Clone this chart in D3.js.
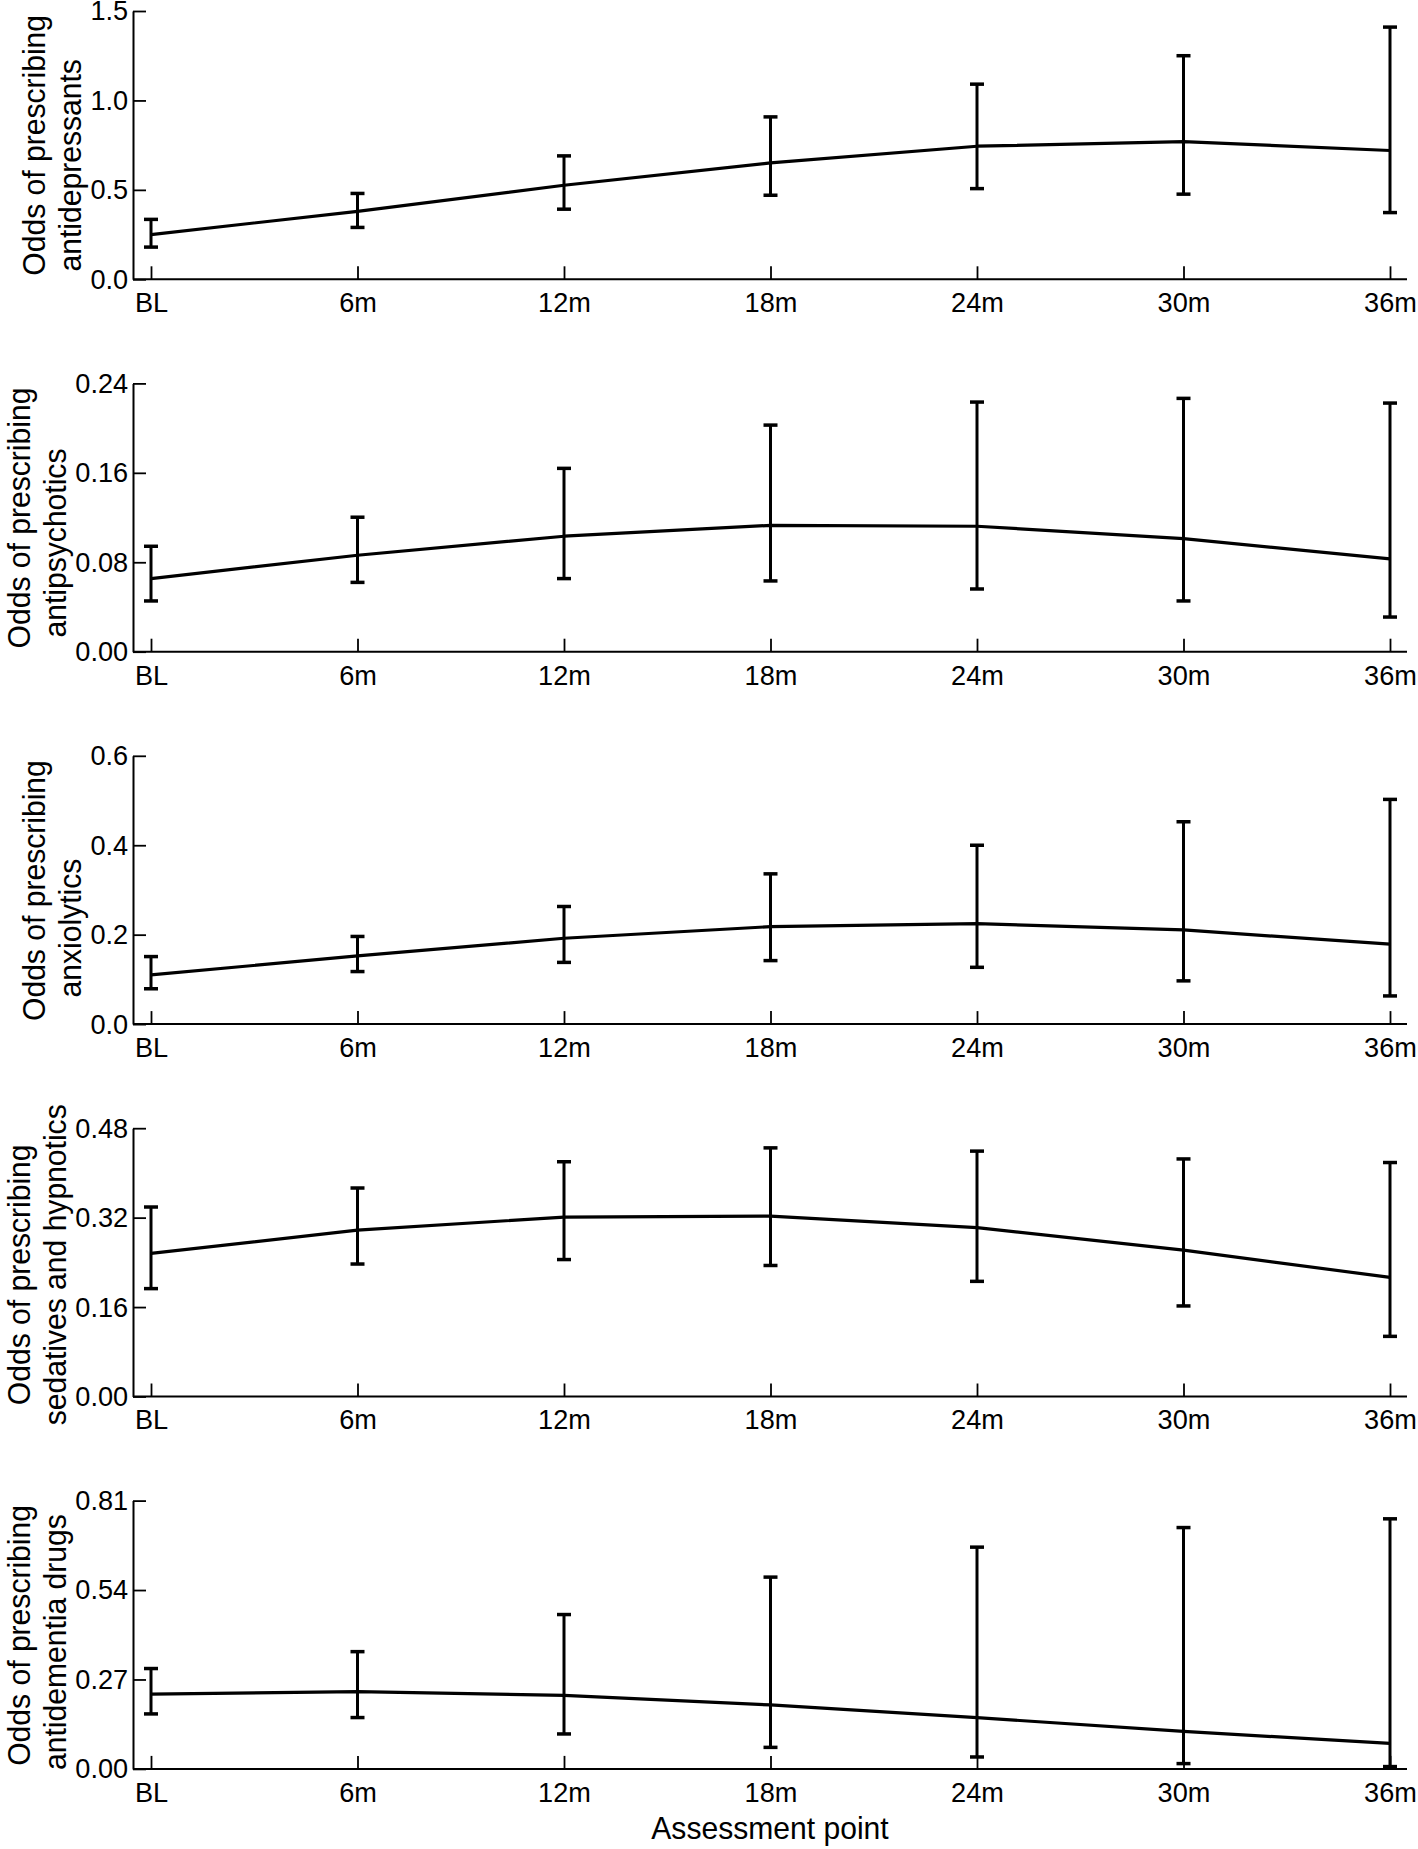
<!DOCTYPE html>
<html>
<head>
<meta charset="utf-8">
<script src="https://cdn.jsdelivr.net/npm/d3@7"></script>
<style>
  html, body { margin: 0; padding: 0; background: #fff; }
  svg { display: block; }
  text { font-family: "Liberation Sans", Arial, Helvetica, sans-serif; fill: #000; }
</style>
</head>
<body>
<div id="chart"></div>
<script>
// ---------------- DATA ----------------
const categories = ["BL", "6m", "12m", "18m", "24m", "30m", "36m"];

const labelAntidepressants = ["Odds of prescribing", "antidepressants"];
const estAntidepressants   = [0.250, 0.380, 0.526, 0.651, 0.744, 0.770, 0.720];
const lowAntidepressants   = [0.180, 0.290, 0.392, 0.470, 0.507, 0.476, 0.373];
const highAntidepressants  = [0.335, 0.480, 0.690, 0.908, 1.091, 1.250, 1.410];
const ticksAntidepressants = [0.0, 0.5, 1.0, 1.5];

const labelAntipsychotics = ["Odds of prescribing", "antipsychotics"];
const estAntipsychotics   = [0.0654, 0.0863, 0.1033, 0.1130, 0.1122, 0.1012, 0.0830];
const lowAntipsychotics   = [0.0454, 0.0620, 0.0654, 0.0633, 0.0561, 0.0454, 0.0310];
const highAntipsychotics  = [0.0943, 0.1203, 0.1640, 0.2027, 0.2233, 0.2266, 0.2224];
const ticksAntipsychotics = [0.00, 0.08, 0.16, 0.24];

const labelAnxiolytics = ["Odds of prescribing", "anxiolytics"];
const estAnxiolytics   = [0.110, 0.1525, 0.192, 0.218, 0.2247, 0.2106, 0.1787];
const lowAnxiolytics   = [0.079, 0.1175, 0.138, 0.142, 0.127, 0.0967, 0.063];
const highAnxiolytics  = [0.151, 0.196, 0.263, 0.336, 0.400, 0.4525, 0.5025];
const ticksAnxiolytics = [0.0, 0.2, 0.4, 0.6];

const labelSedatives = ["Odds of prescribing", "sedatives and hypnotics"];
const estSedatives   = [0.256, 0.2977, 0.321, 0.3228, 0.302, 0.262, 0.213];
const lowSedatives   = [0.193, 0.237, 0.245, 0.2344, 0.206, 0.162, 0.1076];
const highSedatives  = [0.339, 0.373, 0.420, 0.4448, 0.439, 0.425, 0.4186];
const ticksSedatives = [0.00, 0.16, 0.32, 0.48];

const labelAntidementia = ["Odds of prescribing", "antidementia drugs"];
const estAntidementia   = [0.226, 0.233, 0.222, 0.193, 0.1547, 0.113, 0.077];
const lowAntidementia   = [0.166, 0.155, 0.1055, 0.065, 0.036, 0.016, 0.007];
const highAntidementia  = [0.303, 0.354, 0.466, 0.579, 0.6695, 0.7286, 0.755];
const ticksAntidementia = [0.00, 0.27, 0.54, 0.81];

const xAxisTitle = "Assessment point";

// ---------------- LAYOUT ----------------
const W = 1418, H = 1849;
const axisLeftX = 133, axisRightX = 1407;
const firstPointX = 151, lastPointX = 1390;
const panelTop0 = 11, panelStep = 372.4, panelHeight = 268.3;

const panels = [
  { label: labelAntidepressants, est: estAntidepressants, low: lowAntidepressants, high: highAntidepressants, ticks: ticksAntidepressants, fmt: ".1f", lx: [45, 81], lc: [-134, -114] },
  { label: labelAntipsychotics,  est: estAntipsychotics,  low: lowAntipsychotics,  high: highAntipsychotics,  ticks: ticksAntipsychotics,  fmt: ".2f", lx: [30, 66], lc: [-133.7, -108.7] },
  { label: labelAnxiolytics,     est: estAnxiolytics,     low: lowAnxiolytics,     high: highAnxiolytics,     ticks: ticksAnxiolytics,     fmt: ".1f", lx: [45, 81], lc: [-133.5, -96] },
  { label: labelSedatives,       est: estSedatives,       low: lowSedatives,       high: highSedatives,       ticks: ticksSedatives,       fmt: ".2f", lx: [30, 66], lc: [-121.7, -131.7] },
  { label: labelAntidementia,    est: estAntidementia,    low: lowAntidementia,    high: highAntidementia,    ticks: ticksAntidementia,    fmt: ".2f", lx: [30, 66], lc: [-133.5, -126.8] }
];

const svg = d3.select("#chart").append("svg")
  .attr("width", W).attr("height", H)
  .attr("viewBox", `0 0 ${W} ${H}`);

svg.append("rect").attr("width", W).attr("height", H).attr("fill", "#fff");

const x = d3.scalePoint().domain(categories).range([firstPointX, lastPointX]);

const tickFont = 28, tickScale = 0.97, titleFont = 32, titleScale = 0.94, capHalf = 7;

panels.forEach((p, i) => {
  const top = panelTop0 + i * panelStep;
  const bottom = top + panelHeight;
  const y = d3.scaleLinear().domain([0, p.ticks[p.ticks.length - 1]]).range([bottom, top]);
  const g = svg.append("g").attr("class", "panel");

  // Y axis
  const ya = g.append("g")
    .attr("transform", `translate(${axisLeftX},0)`)
    .call(d3.axisLeft(y).tickValues(p.ticks).tickFormat(d3.format(p.fmt))
      .tickSizeInner(-13).tickSizeOuter(0).tickPadding(5));
  ya.select(".domain").attr("stroke", "#000").attr("stroke-width", 2);
  ya.selectAll(".tick line").attr("stroke", "#000").attr("stroke-width", 1.8);
  ya.selectAll(".tick text").attr("font-size", tickFont).attr("fill", "#000")
    .attr("transform", `scale(${tickScale},1)`)
    .style("font-family", "'Liberation Sans', Arial, sans-serif");

  // X axis
  const xa = g.append("g")
    .attr("transform", `translate(0,${bottom})`)
    .call(d3.axisBottom(x).tickSizeInner(-13).tickSizeOuter(0).tickPadding(13));
  xa.select(".domain").remove();
  xa.selectAll(".tick line").attr("stroke", "#000").attr("stroke-width", 1.8);
  xa.selectAll(".tick text").attr("font-size", tickFont).attr("fill", "#000")
    .attr("transform", `scale(${tickScale},1)`)
    .style("font-family", "'Liberation Sans', Arial, sans-serif");
  xa.append("line")
    .attr("x1", axisLeftX).attr("x2", axisRightX)
    .attr("y1", 0).attr("y2", 0)
    .attr("stroke", "#000").attr("stroke-width", 2);

  // Y label (two lines)
  p.label.forEach((t, k) => {
    g.append("text")
      .attr("transform", `translate(${p.lx[k]},${bottom + p.lc[k]}) rotate(-90) scale(${titleScale},1)`)
      .attr("text-anchor", "middle")
      .attr("font-size", titleFont)
      .text(t);
  });

  // Error bars
  const rows = categories.map((c, j) => ({ c, est: p.est[j], lo: p.low[j], hi: p.high[j] }));
  const eb = g.append("g").attr("stroke", "#000").attr("fill", "none");
  eb.selectAll("line.v").data(rows).join("line").attr("class", "v")
    .attr("x1", d => x(d.c)).attr("x2", d => x(d.c))
    .attr("y1", d => y(d.lo)).attr("y2", d => y(d.hi))
    .attr("stroke-width", 3);
  eb.selectAll("line.ct").data(rows).join("line").attr("class", "ct")
    .attr("x1", d => x(d.c) - capHalf).attr("x2", d => x(d.c) + capHalf)
    .attr("y1", d => y(d.hi)).attr("y2", d => y(d.hi))
    .attr("stroke-width", 3.5);
  eb.selectAll("line.cb").data(rows).join("line").attr("class", "cb")
    .attr("x1", d => x(d.c) - capHalf).attr("x2", d => x(d.c) + capHalf)
    .attr("y1", d => y(d.lo)).attr("y2", d => y(d.lo))
    .attr("stroke-width", 3.5);

  // Estimate line
  g.append("path").datum(rows)
    .attr("fill", "none").attr("stroke", "#000").attr("stroke-width", 3.2)
    .attr("stroke-linejoin", "round")
    .attr("d", d3.line().x(d => x(d.c)).y(d => y(d.est)));
});

// X axis title
svg.append("text")
  .attr("x", (axisLeftX + axisRightX) / 2)
  .attr("y", 1839)
  .attr("text-anchor", "middle")
  .attr("font-size", titleFont)
  .attr("transform", `translate(${(axisLeftX + axisRightX) / 2 * (1 - titleScale)},0) scale(${titleScale},1)`)
  .text(xAxisTitle);
</script>
</body>
</html>
